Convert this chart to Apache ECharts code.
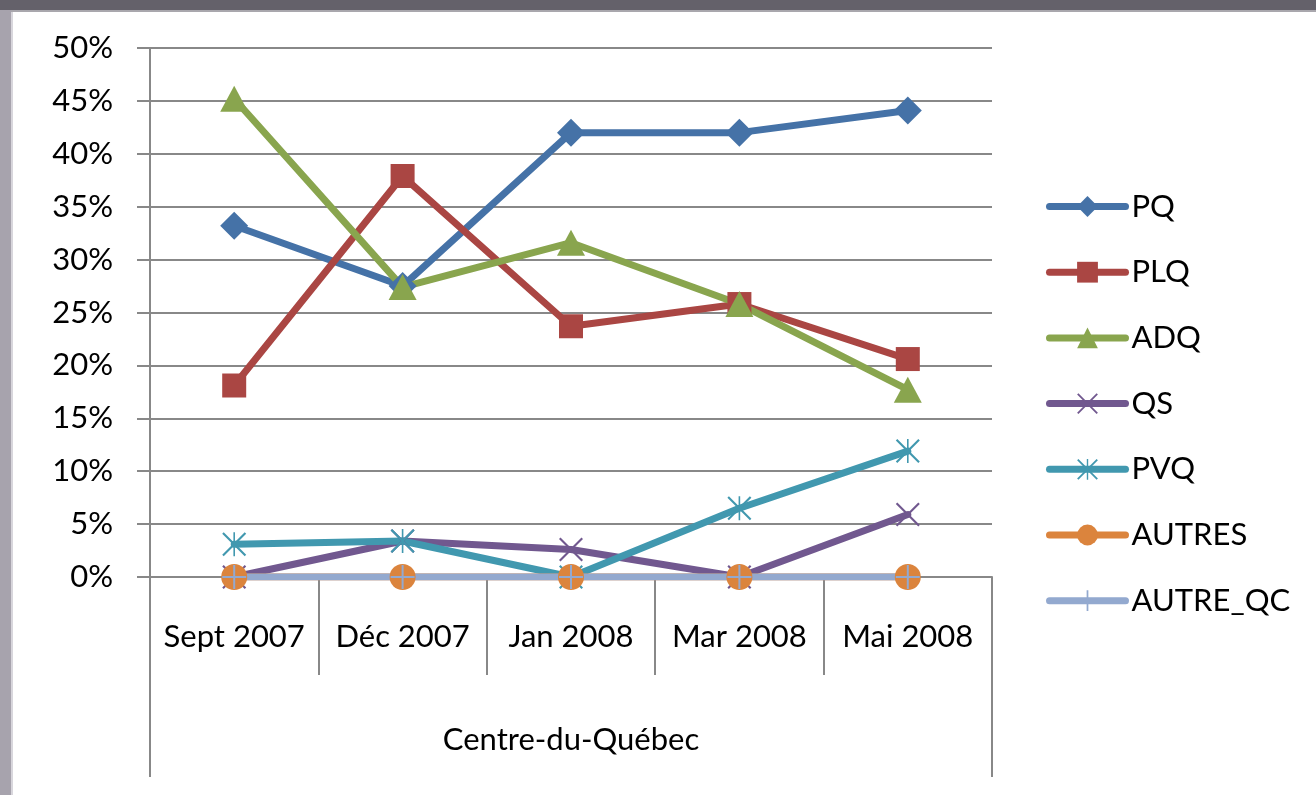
<!DOCTYPE html>
<html>
<head>
<meta charset="utf-8">
<script src="https://cdn.jsdelivr.net/npm/echarts@6/dist/echarts.min.js"></script>
<style>
  html, body { margin: 0; padding: 0; background: #fff; }
  #chart { width: 1316px; height: 795px; }
</style>
</head>
<body>
<div id="chart"></div>
<script>
// data
var categories = ['Sept 2007', 'Déc 2007', 'Jan 2008', 'Mar 2008', 'Mai 2008'];
var groupLabel = ['Centre-du-Québec'];
var seriesNames = ['PQ', 'PLQ', 'ADQ', 'QS', 'PVQ', 'AUTRES', 'AUTRE_QC'];

var pq      = [0.332, 0.275, 0.42, 0.42, 0.441];
var plq     = [0.181, 0.379, 0.237, 0.258, 0.206];
var adq     = [0.452, 0.274, 0.316, 0.258, 0.177];
var qs      = [0, 0.034, 0.026, 0, 0.059];
var pvq     = [0.031, 0.034, 0, 0.065, 0.119];
var autres  = [0, 0, 0, 0, 0];
var autreQc = [0, 0, 0, 0, 0];

var colors = ['#4572A7', '#AA4643', '#89A54E', '#71588F', '#4198AF', '#DB843D', '#93A9CF'];

// marker shapes
var xPath = 'path://M0,1.5 L1.5,0 L24,22.5 L22.5,24 Z M22.5,0 L24,1.5 L1.5,24 L0,22.5 Z';
var starPath = 'path://M0,1.5 L1.5,0 L24,22.5 L22.5,24 Z M22.5,0 L24,1.5 L1.5,24 L0,22.5 Z M11.2,0 L12.8,0 L12.8,24 L11.2,24 Z';
var plusPath = 'path://M11,0 L13,0 L13,24 L11,24 Z M0,11 L24,11 L24,13 L0,13 Z';

var chart = echarts.init(document.getElementById('chart'));

function line(name, data, color, symbol, size) {
    return {
        name: name,
        type: 'line',
        data: data,
        symbol: symbol,
        symbolSize: size,
        showAllSymbol: true,
        lineStyle: { width: 7, color: color, cap: 'round', join: 'round' },
        itemStyle: { color: color },
        emphasis: { disabled: true },
        animation: false
    };
}

var axisGray = '#888888';
var font = 'Lato';

var option = {
    color: colors,
    textStyle: { fontFamily: font },
    grid: { left: 150, right: 324, top: 48, bottom: 218, containLabel: false },
    legend: {
        orient: 'vertical',
        left: 1041,
        top: 186,
        itemWidth: 76,
        itemHeight: 26,
        itemGap: 34.7,
        lineStyle: { width: 7, cap: 'round' },
        textStyle: { fontSize: 31, color: '#000', fontFamily: font, padding: [0, 0, 0, 1] },
        data: seriesNames
    },
    xAxis: [
        {
            type: 'category',
            data: categories,
            boundaryGap: true,
            axisLine: { show: true, lineStyle: { color: axisGray, width: 2 } },
            axisTick: { show: true, length: 98, interval: 0, lineStyle: { color: axisGray, width: 2 } },
            axisLabel: { fontSize: 31, color: '#000', margin: 44, interval: 0, fontFamily: font },
            splitLine: { show: false }
        },
        {
            type: 'category',
            data: groupLabel,
            position: 'bottom',
            boundaryGap: true,
            axisLine: { show: false },
            axisTick: { show: true, length: 200, lineStyle: { color: axisGray, width: 2 } },
            axisLabel: { fontSize: 31, color: '#000', margin: 147, fontFamily: font },
            splitLine: { show: false }
        }
    ],
    yAxis: {
        type: 'value',
        min: 0,
        max: 0.5,
        interval: 0.05,
        axisLine: { show: true, lineStyle: { color: axisGray, width: 2 } },
        axisTick: { show: true, length: 13, lineStyle: { color: axisGray, width: 2 } },
        axisLabel: {
            fontSize: 31, color: '#000', margin: 37, fontFamily: font,
            formatter: function (v) { return Math.round(v * 100) + '%'; }
        },
        splitLine: { show: true, lineStyle: { color: axisGray, width: 2 } }
    },
    graphic: [
        // screenshot frame
        { type: 'rect', left: 0, top: 0, shape: { width: 11, height: 795 }, style: { fill: '#a7a3ad' }, z: 100 },
        { type: 'rect', left: 11, top: 10, shape: { width: 2, height: 785 }, style: { fill: '#d8d6dc' }, z: 100 },
        { type: 'rect', left: 0, top: 0, shape: { width: 1316, height: 10 }, style: { fill: '#64616a' }, z: 101 },
        { type: 'rect', left: 11, top: 10, shape: { width: 1305, height: 2 }, style: { fill: '#a9a7ad' }, z: 100 }
    ],
    series: [
        line('PQ', pq, colors[0], 'diamond', [28, 28]),
        line('PLQ', plq, colors[1], 'rect', 24),
        line('ADQ', adq, colors[2], 'triangle', [28, 26]),
        line('QS', qs, colors[3], xPath, 24),
        line('PVQ', pvq, colors[4], starPath, 24),
        line('AUTRES', autres, colors[5], 'circle', 26),
        line('AUTRE_QC', autreQc, colors[6], plusPath, 24)
    ]
};

chart.setOption(option);
</script>
</body>
</html>
